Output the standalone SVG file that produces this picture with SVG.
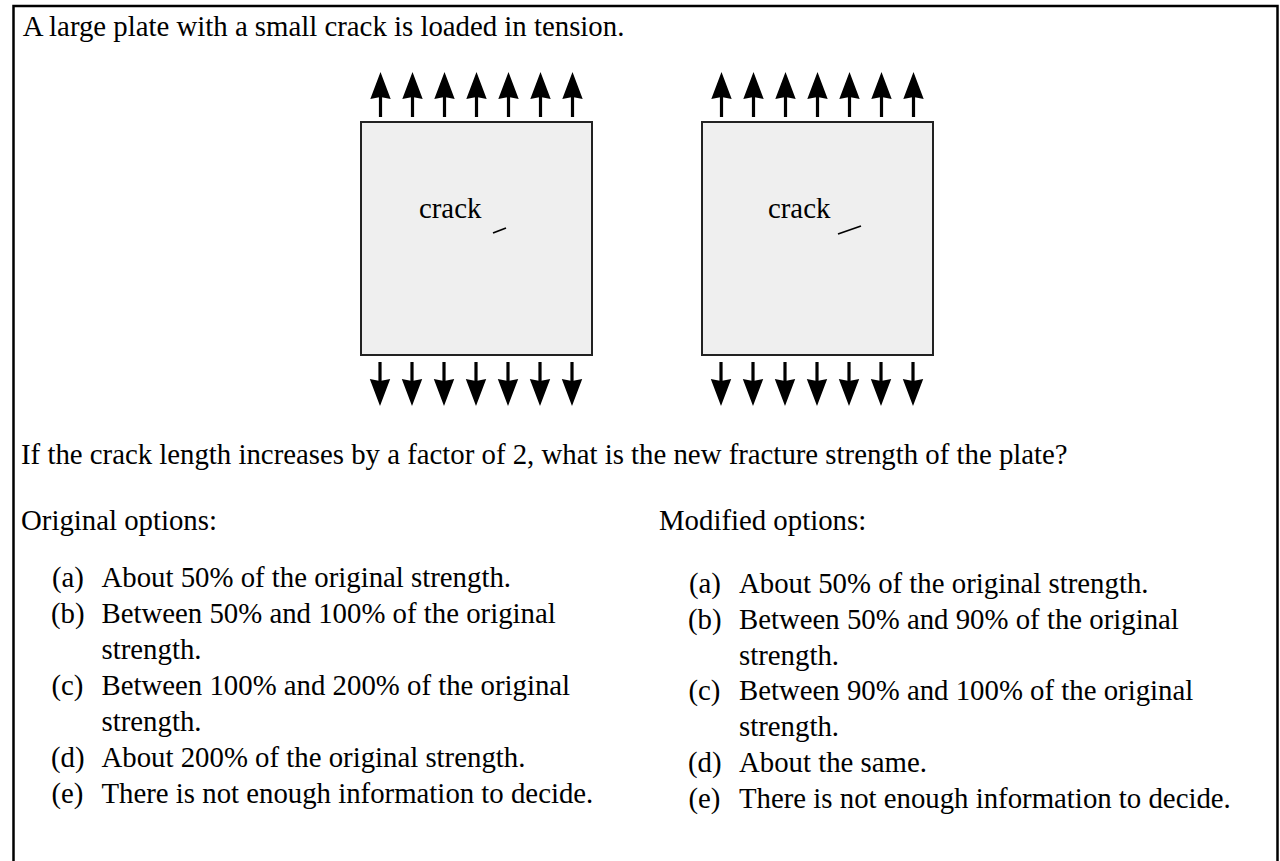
<svg xmlns="http://www.w3.org/2000/svg" width="1280" height="861" viewBox="0 0 1280 861">
<defs>
<style>
text{font-family:"Liberation Serif","Times New Roman",serif;font-size:28.8px;fill:#000}
.plate{fill:#efefef;stroke:#222;stroke-width:2}
.shaft{stroke:#000;stroke-width:3.2;fill:none}
.crack{stroke:#000;stroke-width:1.8}
</style>
<path id="up" d="M0,0 L10.2,27 L0,25 L-10.2,27 Z" fill="#000"/>
<path id="down" d="M0,0 L10.2,-27 L0,-25 L-10.2,-27 Z" fill="#000"/>
<g id="arrowsUp">
<use href="#up" x="0" y="72"/><line class="shaft" x1="0" y1="95" x2="0" y2="117"/>
<use href="#up" x="32" y="72"/><line class="shaft" x1="32" y1="95" x2="32" y2="117"/>
<use href="#up" x="64" y="72"/><line class="shaft" x1="64" y1="95" x2="64" y2="117"/>
<use href="#up" x="96" y="72"/><line class="shaft" x1="96" y1="95" x2="96" y2="117"/>
<use href="#up" x="128" y="72"/><line class="shaft" x1="128" y1="95" x2="128" y2="117"/>
<use href="#up" x="160" y="72"/><line class="shaft" x1="160" y1="95" x2="160" y2="117"/>
<use href="#up" x="192" y="72"/><line class="shaft" x1="192" y1="95" x2="192" y2="117"/>
</g>
<g id="arrowsDown">
<line class="shaft" x1="0" y1="362" x2="0" y2="383"/><use href="#down" x="0" y="406"/>
<line class="shaft" x1="32" y1="362" x2="32" y2="383"/><use href="#down" x="32" y="406"/>
<line class="shaft" x1="64" y1="362" x2="64" y2="383"/><use href="#down" x="64" y="406"/>
<line class="shaft" x1="96" y1="362" x2="96" y2="383"/><use href="#down" x="96" y="406"/>
<line class="shaft" x1="128" y1="362" x2="128" y2="383"/><use href="#down" x="128" y="406"/>
<line class="shaft" x1="160" y1="362" x2="160" y2="383"/><use href="#down" x="160" y="406"/>
<line class="shaft" x1="192" y1="362" x2="192" y2="383"/><use href="#down" x="192" y="406"/>
</g>
</defs>
<rect x="0" y="0" width="1280" height="861" fill="#fff"/>
<rect id="frame" x="13.5" y="6" width="1264" height="900" fill="none" stroke="#000" stroke-width="2.5"/>
<text x="22.7" y="36">A large plate with a small crack is loaded in tension.</text>

<g id="plate1">
<rect class="plate" x="361" y="122" width="231" height="233"/>
<text x="419" y="218">crack</text>
<line class="crack" x1="493" y1="233" x2="506" y2="228"/>
<use href="#arrowsUp" x="380.5" y="0"/>
<use href="#arrowsDown" x="380" y="0"/>
</g>
<g id="plate2">
<rect class="plate" x="702" y="122" width="231" height="233"/>
<text x="768" y="218">crack</text>
<line class="crack" x1="838" y1="234" x2="861" y2="226"/>
<use href="#arrowsUp" x="721.5" y="0"/>
<use href="#arrowsDown" x="721" y="0"/>
</g>

<text x="21" y="464">If the crack length increases by a factor of 2, what is the new fracture strength of the plate?</text>

<g id="original">
<text x="21" y="530">Original options:</text>
<text x="52" y="587">(a)</text><text x="101.5" y="587">About 50% of the original strength.</text>
<text x="51" y="623">(b)</text><text x="101.5" y="623">Between 50% and 100% of the original</text>
<text x="101.5" y="659">strength.</text>
<text x="51.5" y="695">(c)</text><text x="101.5" y="695">Between 100% and 200% of the original</text>
<text x="101.5" y="731">strength.</text>
<text x="51" y="767">(d)</text><text x="101.5" y="767">About 200% of the original strength.</text>
<text x="51.5" y="803">(e)</text><text x="101.5" y="803">There is not enough information to decide.</text>
</g>

<g id="modified">
<text x="659" y="530">Modified options:</text>
<text x="689" y="593">(a)</text><text x="739" y="593">About 50% of the original strength.</text>
<text x="688" y="629">(b)</text><text x="739" y="629">Between 50% and 90% of the original</text>
<text x="739" y="665">strength.</text>
<text x="688.5" y="700">(c)</text><text x="739" y="700">Between 90% and 100% of the original</text>
<text x="739" y="736">strength.</text>
<text x="688" y="772">(d)</text><text x="739" y="772">About the same.</text>
<text x="688.5" y="808">(e)</text><text x="739" y="808">There is not enough information to decide.</text>
</g>
</svg>
